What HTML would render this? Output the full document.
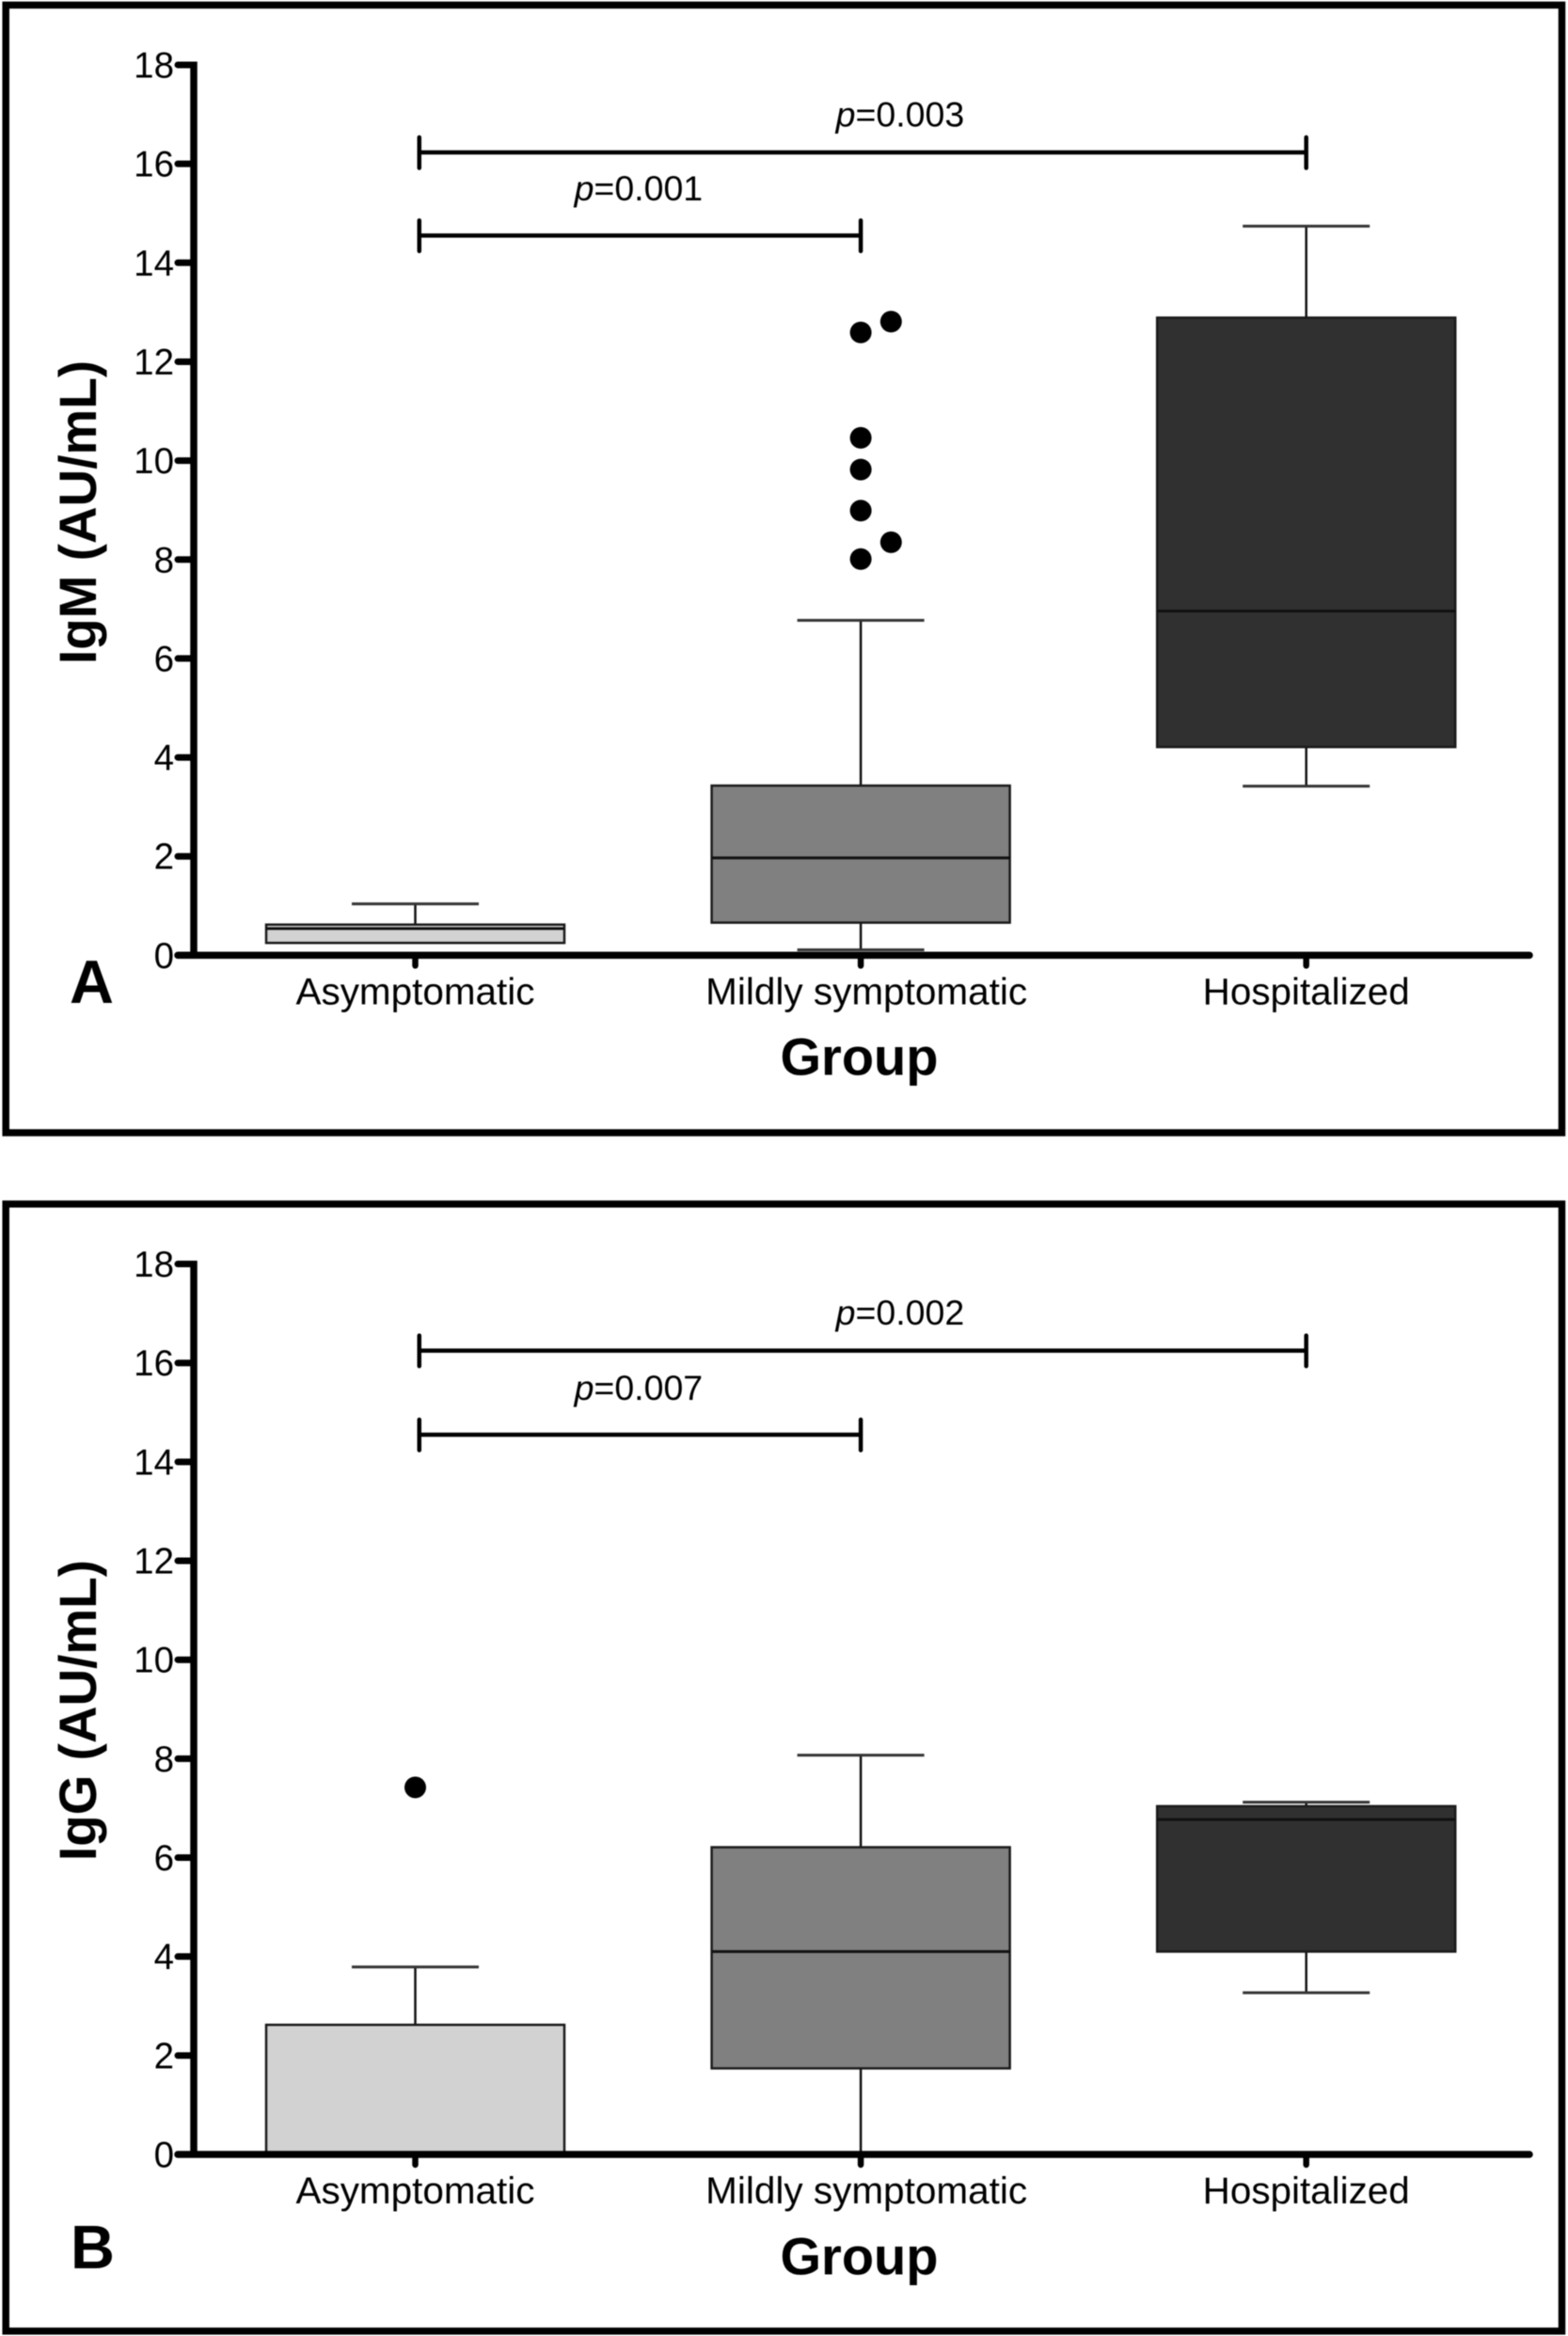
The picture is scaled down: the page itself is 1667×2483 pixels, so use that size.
<!DOCTYPE html>
<html lang="en">
<head>
<meta charset="utf-8">
<title>IgM and IgG by group</title>
<style>
html,body{margin:0;padding:0;background:#fff;}
svg{display:block;width:1667px;height:2483px;font-family:"Liberation Sans",Arial,sans-serif;filter:blur(0.5px);}
</style>
</head>
<body>
<svg id="figure" xmlns="http://www.w3.org/2000/svg" width="1667" height="2483" viewBox="0 0 1667 2483"></svg>
<script>
const categories = ["Asymptomatic", "Mildly symptomatic", "Hospitalized"];
const yTickValues = [0, 2, 4, 6, 8, 10, 12, 14, 16, 18];

const igmWhiskerLow = [0.27, 0.11, 3.42];
const igmQ1 = [0.25, 0.66, 4.21];
const igmMedian = [0.54, 1.97, 6.96];
const igmQ3 = [0.62, 3.43, 12.89];
const igmWhiskerHigh = [1.04, 6.77, 14.74];
const igmOutlierGroup = [1, 1, 1, 1, 1, 1, 1];
const igmOutlierJitter = [0, 0.068, 0, 0, 0, 0.068, 0];
const igmOutlierValues = [12.59, 12.81, 10.46, 9.82, 8.99, 8.35, 8.01];
const igmBracketValues = [16.23, 14.55];
const igmBracketEnds = [2, 1];
const igmPLabels = ["0.003", "0.001"];

const iggWhiskerLow = [0, 0, 3.27];
const iggQ1 = [0, 1.74, 4.10];
const iggMedian = [0, 4.10, 6.77];
const iggQ3 = [2.62, 6.21, 7.04];
const iggWhiskerHigh = [3.79, 8.07, 7.12];
const iggOutlierGroup = [0];
const iggOutlierJitter = [0];
const iggOutlierValues = [7.42];
const iggBracketValues = [16.25, 14.55];
const iggBracketEnds = [2, 1];
const iggPLabels = ["0.002", "0.007"];

const boxFills = ["#d2d2d2", "#808080", "#303030"];
const NS = "http://www.w3.org/2000/svg";
const root = document.getElementById("figure");

function xScale(c) { return 441.5 + 473.6 * c; }
function make(tag, parent, attrs) {
  const el = document.createElementNS(NS, tag);
  for (const k in attrs) el.setAttribute(k, attrs[k]);
  parent.appendChild(el);
  return el;
}
function line(parent, x1, y1, x2, y2, width, color, cap) {
  return make("line", parent, { x1: x1, y1: y1, x2: x2, y2: y2, stroke: color, "stroke-width": width, "stroke-linecap": cap || "butt" });
}

function drawPanel(p) {
  const yScale = v => p.zeroY - v * 52.58;
  const slug = p.slug;

  const g = make("g", root, {});
  
  

  const frame = make("rect", g, { x: 6.2, y: p.frameY, width: 1654.3, height: p.frameH, fill: "none", stroke: "#000", "stroke-width": 7.5 });
  
  

  // Boxes and whiskers
  categories.forEach((name, i) => {
    const cx = xScale(i);
    const box = make("g", g, {});
    
    
    line(box, cx, yScale(p.whiskerHigh[i]), cx, yScale(p.q3[i]), 2.5, "#111");
    line(box, cx, yScale(p.q1[i]), cx, yScale(p.whiskerLow[i]), 2.5, "#111");
    line(box, cx - 67.5, yScale(p.whiskerHigh[i]), cx + 67.5, yScale(p.whiskerHigh[i]), 3, "#333");
    if (p.whiskerLow[i] > 0) {
      line(box, cx - 67.5, yScale(p.whiskerLow[i]), cx + 67.5, yScale(p.whiskerLow[i]), 3, "#333");
    }
    make("rect", box, {
      x: cx - 158.5, y: yScale(p.q3[i]), width: 317,
      height: yScale(p.q1[i]) - yScale(p.q3[i]),
      fill: boxFills[i], stroke: "#1a1a1a", "stroke-width": 2.5
    });
    if (p.median[i] > 0) {
      line(box, cx - 158.5, yScale(p.median[i]), cx + 158.5, yScale(p.median[i]), 3, "#111");
    }
  });

  // Outliers
  p.outlierValues.forEach((v, i) => {
    const dot = make("circle", g, { cx: xScale(p.outlierGroup[i] + p.outlierJitter[i]), cy: yScale(v), r: 11.5, fill: "#000" });
    
    
  });

  // Y axis
  const yAxis = make("g", g, {});
  
  
  line(yAxis, 206, yScale(18) - 3.5, 206, yScale(0), 7.5, "#000");
  yTickValues.forEach(v => {
    line(yAxis, 189, yScale(v), 206, yScale(v), 7, "#000", "round");
    const t = make("text", yAxis, { x: 185, y: yScale(v) + 13.5, "text-anchor": "end", "font-size": 38.5, fill: "#000" });
    t.textContent = String(v);
    
    
  });

  // X axis
  const xAxis = make("g", g, {});
  
  
  line(xAxis, 189, yScale(0), 1626, yScale(0), 7.5, "#000", "round");
  categories.forEach((name, i) => {
    line(xAxis, xScale(i), yScale(0), xScale(i), yScale(0) + 11, 6.5, "#000", "round");
    const t = make("text", xAxis, {
      x: xScale(i) + [0, 6, 0][i], y: yScale(0) + 52.2, "text-anchor": "middle", "font-size": 39.5,
      textLength: [254, 342, 220][i], lengthAdjust: "spacingAndGlyphs", fill: "#000"
    });
    t.textContent = name;
    
    
  });

  // Significance brackets
  p.bracketValues.forEach((v, i) => {
    const br = make("g", g, {});
    
    
    const x1 = xScale(0.009);
    const x2 = xScale(p.bracketEnds[i]);
    const y = yScale(v);
    line(br, x1, y, x2, y, 4.5, "#000");
    line(br, x1, y - 16, x1, y + 16.5, 4.5, "#000", "round");
    line(br, x2, y - 16, x2, y + 16.5, 4.5, "#000", "round");
    const labelCat = [0.944, 0.357][i];
    const t = make("text", br, { x: xScale(labelCat), y: y + [-27.6, -37.2][i], "font-size": 37.5, fill: "#000" });
    
    
    const ital = make("tspan", t, { "font-style": "italic" });
    ital.textContent = "p";
    const rest = make("tspan", t, {});
    rest.textContent = "=" + p.pLabels[i];
  });

  // Titles
  const xTitle = make("text", g, { x: 913.5, y: yScale(0) + 127.3, "text-anchor": "middle", "font-size": 56, "font-weight": "bold", fill: "#000" });
  xTitle.textContent = "Group";
  
  

  const yTitle = make("text", g, {
    transform: "translate(102 " + p.yTitleBase + ") rotate(-90)", x: 0, y: 0,
    "font-size": 56, "font-weight": "bold", textLength: p.yTitleLen, lengthAdjust: "spacingAndGlyphs", fill: "#000"
  });
  yTitle.textContent = p.yTitle;
  
  

  const letter = make("text", g, { x: p.letterX, y: p.letterY, "font-size": 65, "font-weight": "bold", fill: "#000" });
  letter.textContent = p.letter;
  
  
}

drawPanel({
  slug: "igm", zeroY: 1015.4, frameY: 5.4, frameH: 1198.6,
  whiskerLow: igmWhiskerLow, q1: igmQ1, median: igmMedian, q3: igmQ3, whiskerHigh: igmWhiskerHigh,
  outlierGroup: igmOutlierGroup, outlierJitter: igmOutlierJitter, outlierValues: igmOutlierValues,
  bracketValues: igmBracketValues, bracketEnds: igmBracketEnds, pLabels: igmPLabels,
  yTitle: "IgM (AU/mL)", yTitleBase: 706, yTitleLen: 323,
  letter: "A", letterX: 74, letterY: 1066
});
drawPanel({
  slug: "igg", zeroY: 2290, frameY: 1279.8, frameH: 1198,
  whiskerLow: iggWhiskerLow, q1: iggQ1, median: iggMedian, q3: iggQ3, whiskerHigh: iggWhiskerHigh,
  outlierGroup: iggOutlierGroup, outlierJitter: iggOutlierJitter, outlierValues: iggOutlierValues,
  bracketValues: iggBracketValues, bracketEnds: iggBracketEnds, pLabels: iggPLabels,
  yTitle: "IgG (AU/mL)", yTitleBase: 1978, yTitleLen: 320,
  letter: "B", letterX: 75, letterY: 2411
});
</script>
</body>
</html>
